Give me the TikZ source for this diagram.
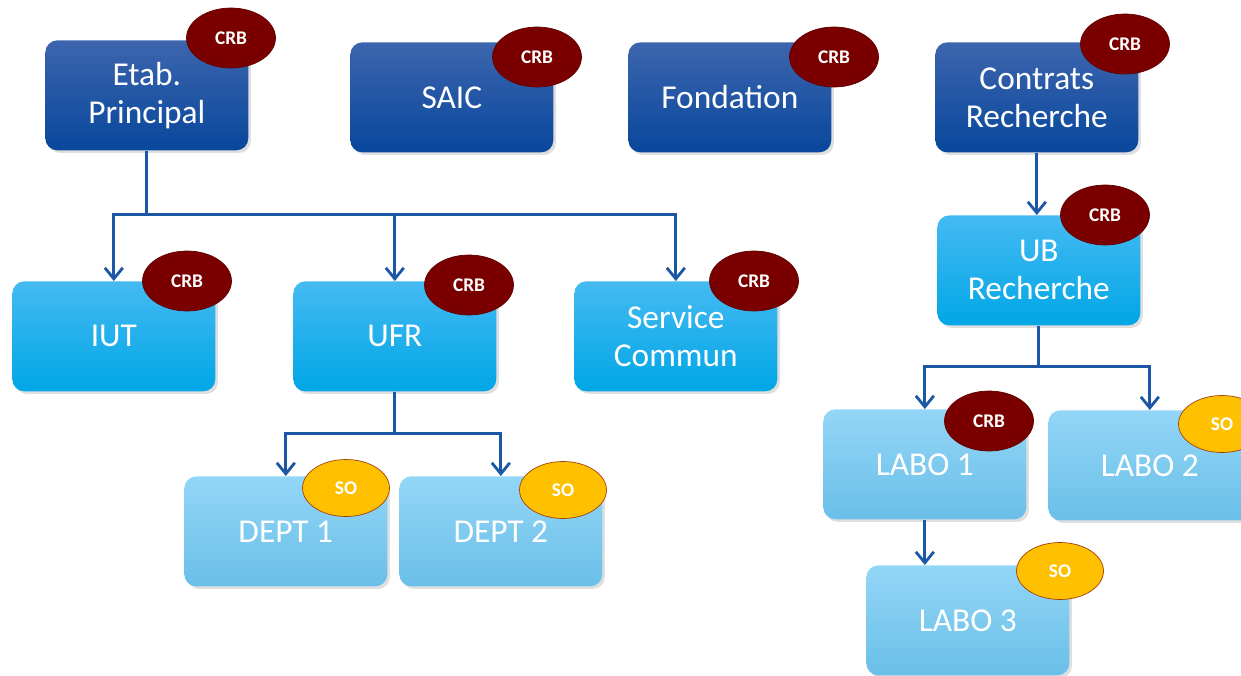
\documentclass[tikz,border=0pt]{standalone}
\usepackage{fontspec}
\setmainfont{Carlito}
\usetikzlibrary{calc,arrows.meta,positioning,shapes.geometric,shadows}
\definecolor{darktop}{HTML}{3D65AE}
\definecolor{darkbot}{HTML}{08479C}
\definecolor{midtop}{HTML}{45BAF2}
\definecolor{midbot}{HTML}{00A6E6}
\definecolor{lighttop}{HTML}{93D6F7}
\definecolor{lightbot}{HTML}{6ABFE8}
\definecolor{crbred}{HTML}{7A0000}
\definecolor{soyellow}{HTML}{FFC000}
\definecolor{sobrown}{HTML}{A3410C}
\definecolor{linkblue}{HTML}{1B57A5}

\begin{document}
\begin{tikzpicture}[x=0.02cm, y=-0.02cm,
  unitbox/.style={
    rectangle,
    rounded corners=0.24cm,
    minimum width=4.06cm,
    minimum height=2.2cm,
    align=center,
    text=white,
    font=\fontsize{19}{21.6}\selectfont,
    drop shadow={opacity=0.25, shadow xshift=1.5pt, shadow yshift=-1.5pt}
  },
  topunit/.style={unitbox, top color=darktop, bottom color=darkbot},
  midunit/.style={unitbox, top color=midtop, bottom color=midbot},
  subunit/.style={unitbox, top color=lighttop, bottom color=lightbot},
  crbtag/.style={
    ellipse,
    draw=crbred!80!black,
    fill=crbred,
    minimum width=1.78cm,
    minimum height=1.2cm,
    inner sep=0pt,
    text=white,
    font=\fontsize{11}{13}\selectfont\bfseries
  },
  sotag/.style={
    ellipse,
    draw=sobrown,
    thin,
    fill=soyellow,
    minimum width=1.74cm,
    minimum height=1.14cm,
    inner sep=0pt,
    text=white,
    font=\fontsize{11}{13}\selectfont\bfseries
  },
  link/.style={linkblue, line width=1.6pt, -{Straight Barb[length=2.2mm, width=3.6mm]}}
  ]
  \useasboundingbox (0,0) rectangle (1241,676);

  % top row
  \begin{scope}
    \node[anchor=north west, topunit] (etab) at (45,40) {Etab.\\Principal};
    \node[anchor=north west, topunit] (saic) at (350,42) {SAIC};
    \node[anchor=north west, topunit] (fond) at (628,42) {Fondation};
    \node[anchor=north west, topunit] (contrats) at (935,42) {Contrats\\Recherche};

    \node[crbtag] (etab-crb) at (231,38) {CRB};
    \node[crbtag] (saic-crb) at (537,57) {CRB};
    \node[crbtag] (fond-crb) at (834,57) {CRB};
    \node[crbtag] (contrats-crb) at (1125,44) {CRB};
  \end{scope}

  % second row
  \begin{scope}
    \node[anchor=north west, midunit] (iut) at (12,281) {IUT};
    \node[anchor=north west, midunit] (ufr) at (293,281) {UFR};
    \node[anchor=north west, midunit] (serv) at (574,281) {Service\\Commun};
    \node[anchor=north west, midunit] (ub) at (937,215) {UB\\Recherche};

    \node[crbtag] (iut-crb) at (187,281) {CRB};
    \node[crbtag] (ufr-crb) at (469,285) {CRB};
    \node[crbtag] (serv-crb) at (754,281) {CRB};
    \node[crbtag] (ub-crb) at (1105,215) {CRB};
  \end{scope}

  % departements and labos
  \begin{scope}
    \node[anchor=north west, subunit] (dept1) at (184,476) {DEPT 1};
    \node[anchor=north west, subunit] (dept2) at (399,476) {DEPT 2};
    \node[anchor=north west, subunit] (labo1) at (823,409) {LABO 1};
    \node[anchor=north west, subunit] (labo2) at (1048,410) {LABO 2};
    \node[anchor=north west, subunit] (labo3) at (866,565) {LABO 3};

    \node[sotag] (dept1-so) at (346,488) {SO};
    \node[sotag] (dept2-so) at (563,490) {SO};
    \node[crbtag] (labo1-crb) at (989,421) {CRB};
    \node[sotag] (labo2-so) at (1222,424) {SO};
    \node[sotag] (labo3-so) at (1060,571) {SO};
  \end{scope}

  % links
  \draw[link] (etab.south) -- ++(0,64) -| (iut.north);
  \draw[link] (etab.south) -- ++(0,64) -| (ufr.north);
  \draw[link] (etab.south) -- ++(0,64) -| (serv.north);

  \draw[link] (ufr.south) -- ++(0,42) -| (dept1.north);
  \draw[link] (ufr.south) -- ++(0,42) -| (dept2.north);

  \draw[link] (contrats.south) -- (ub.north -| contrats.south);
  \draw[link] (ub.south) -- ++(0,41) -| (labo1.north);
  \draw[link] (ub.south) -- ++(0,41) -| (labo2.north);
  \draw[link] (labo1.south) -- (labo1.south |- labo3.north);

\end{tikzpicture}
\end{document}
